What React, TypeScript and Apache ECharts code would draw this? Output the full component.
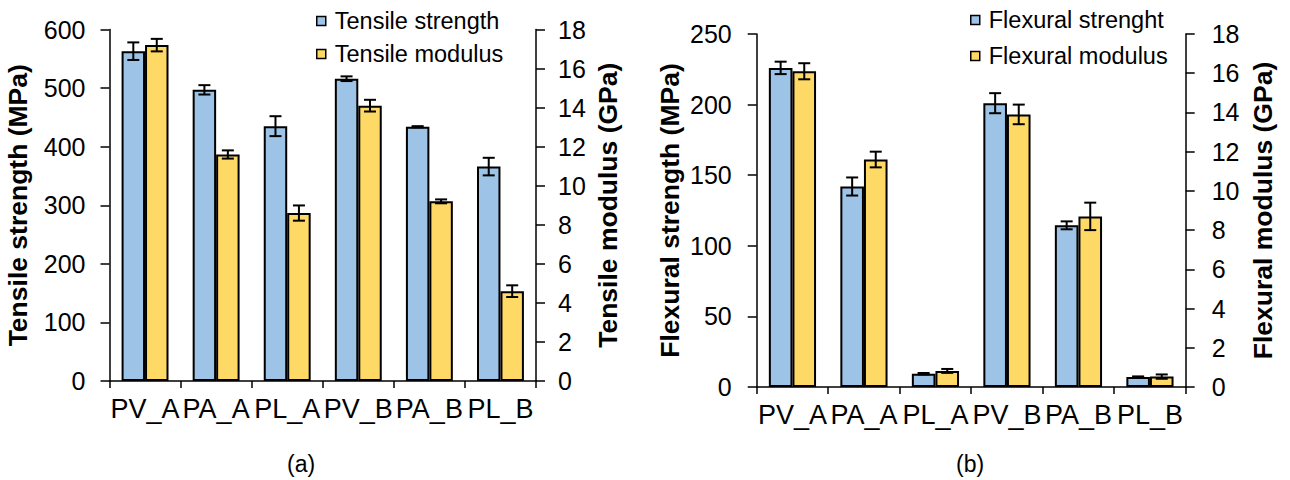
import React, { useEffect, useRef } from "react";
import * as echarts from "echarts";

const categories = ["PV_A", "PA_A", "PL_A", "PV_B", "PA_B", "PL_B"];

const tensileStrength = [563, 497, 435, 516, 434, 366];
const tensileStrengthErr = [15, 8, 17, 4, 1, 15];
const tensileModulus = [17.2, 11.6, 8.6, 14.1, 9.2, 4.6];
const tensileModulusErr = [0.32, 0.21, 0.39, 0.3, 0.1, 0.3];

const flexuralStrength = [226, 142, 9.4, 201, 114.5, 7.1];
const flexuralStrengthErr = [4.4, 6.4, 0.5, 7.1, 2.8, 0.4];
const flexuralModulus = [16.1, 11.6, 0.82, 13.9, 8.7, 0.53];
const flexuralModulusErr = [0.41, 0.4, 0.1, 0.5, 0.7, 0.11];

const FONT = "Liberation Sans, Arial, sans-serif";
const BLUE = "#9DC3E6";
const YELLOW = "#FFD966";
const CAT_GAP = 0.34;

function errSeries(name: string, xi: number, yi: number, vals: number[], errs: number[], side: number) {
  return {
    type: "custom",
    name,
    xAxisIndex: xi,
    yAxisIndex: yi,
    z: 5,
    data: vals.map((v, i) => [i, v, errs[i]]),
    encode: { x: 0, y: 1 },
    renderItem: (params: any, api: any) => {
      const idx = api.value(0);
      const v = api.value(1);
      const e = api.value(2);
      const top = api.coord([idx, v + e]);
      const bot = api.coord([idx, v - e]);
      const cw = api.size([1, 0])[0];
      const bw = (cw * (1 - CAT_GAP)) / 2;
      const x = top[0] + (side * bw) / 2;
      const hw = 6;
      const st = { stroke: "#000", lineWidth: 2 };
      return {
        type: "group",
        children: [
          { type: "line", shape: { x1: x, y1: top[1], x2: x, y2: bot[1] }, style: st },
          { type: "line", shape: { x1: x - hw, y1: top[1], x2: x + hw, y2: top[1] }, style: st },
          { type: "line", shape: { x1: x - hw, y1: bot[1], x2: x + hw, y2: bot[1] }, style: st },
        ],
      };
    },
  };
}

function barSeries(name: string, xi: number, yi: number, vals: number[], color: string) {
  return {
    type: "bar",
    name,
    xAxisIndex: xi,
    yAxisIndex: yi,
    data: vals,
    barGap: "0%",
    barCategoryGap: CAT_GAP * 100 + "%",
    itemStyle: { color, borderColor: "#000", borderWidth: 2 },
  };
}

const axisLine = { show: true, lineStyle: { color: "#000", width: 1.5 } };

function xAxis(gi: number) {
  return {
    type: "category",
    gridIndex: gi,
    data: categories,
    axisLine,
    axisTick: { show: true, length: 7, lineStyle: { color: "#000", width: 1.5 } },
    axisLabel: { interval: 0, fontSize: 27, color: "#000", fontFamily: FONT, margin: 14 },
  };
}

function yAxis(gi: number, pos: string, max: number, interval: number, name: string, nameGap: number, labelMargin: number) {
  return {
    type: "value",
    gridIndex: gi,
    position: pos,
    min: 0,
    max,
    interval,
    name,
    nameLocation: "middle",
    nameGap,
    nameTextStyle: { fontSize: 26.5, fontWeight: "bold", color: "#000", fontFamily: FONT },
    axisLine,
    axisTick: { show: true, length: 9, lineStyle: { color: "#000", width: 1.5 } },
    splitLine: { show: false },
    axisLabel: { fontSize: 25, color: "#000", fontFamily: FONT, margin: labelMargin },
  };
}

export default function App() {
  const ref = useRef<HTMLDivElement>(null);
  useEffect(() => {
    const chart = echarts.init(ref.current!, null, { renderer: "svg" });
    const legendText = { fontSize: 23.5, color: "#000", fontFamily: FONT, lineHeight: 24, padding: [0, 0, 0, 4] };
    chart.setOption({
      animation: false,
      backgroundColor: "#fff",
      textStyle: { fontFamily: FONT },
      grid: [
        { left: 109.5, right: 1290 - 536, top: 29.5, bottom: 480 - 381 },
        { left: 756.7, right: 1290 - 1185.7, top: 34, bottom: 480 - 387 },
      ],
      legend: [
        {
          orient: "vertical",
          left: 316,
          top: 9,
          padding: 0,
          icon: "rect",
          itemWidth: 9,
          itemHeight: 9,
          itemGap: 9,
          data: ["Tensile strength", "Tensile modulus"],
          textStyle: legendText,
          itemStyle: { borderWidth: 1.5 },
        },
        {
          orient: "vertical",
          left: 970,
          top: 8,
          padding: 0,
          icon: "rect",
          itemWidth: 9,
          itemHeight: 9,
          itemGap: 12,
          data: ["Flexural strenght", "Flexural modulus"],
          textStyle: legendText,
          itemStyle: { borderWidth: 1.5 },
        },
      ],
      xAxis: [xAxis(0), xAxis(1)],
      yAxis: [
        yAxis(0, "left", 600, 100, "Tensile strength (MPa)", 78, 24),
        yAxis(0, "right", 18, 2, "Tensile modulus (GPa)", 58, 22),
        yAxis(1, "left", 250, 50, "Flexural strength (MPa)", 73, 25),
        yAxis(1, "right", 18, 2, "Flexural modulus (GPa)", 64, 26),
      ],
      series: [
        barSeries("Tensile strength", 0, 0, tensileStrength, BLUE),
        barSeries("Tensile modulus", 0, 1, tensileModulus, YELLOW),
        errSeries("ts-err", 0, 0, tensileStrength, tensileStrengthErr, -1),
        errSeries("tm-err", 0, 1, tensileModulus, tensileModulusErr, 1),
        barSeries("Flexural strenght", 1, 2, flexuralStrength, BLUE),
        barSeries("Flexural modulus", 1, 3, flexuralModulus, YELLOW),
        errSeries("fs-err", 1, 2, flexuralStrength, flexuralStrengthErr, -1),
        errSeries("fm-err", 1, 3, flexuralModulus, flexuralModulusErr, 1),
      ],
      graphic: [
        { type: "text", left: 287, top: 452, style: { text: "(a)", fontSize: 23, fill: "#000", fontFamily: FONT } },
        { type: "text", left: 956, top: 452, style: { text: "(b)", fontSize: 23, fill: "#000", fontFamily: FONT } },
      ],
    });
    return () => chart.dispose();
  }, []);
  return (
    <div
      ref={ref}
      style={{ position: "absolute", left: 0, top: 0, width: 1290, height: 480 }}
    />
  );
}
